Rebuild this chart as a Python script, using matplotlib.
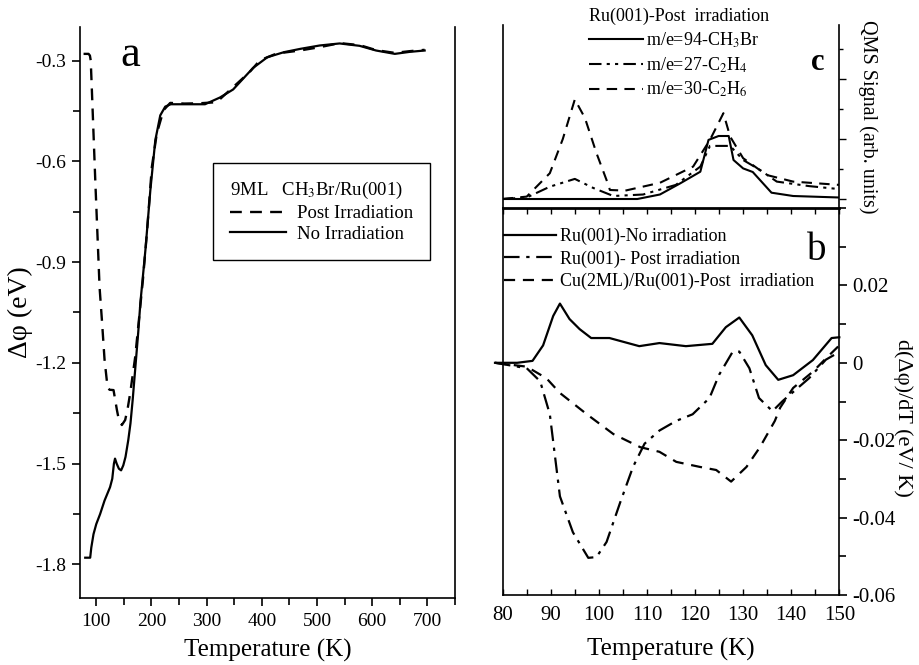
import matplotlib
matplotlib.use("Agg")
import matplotlib.pyplot as plt
from matplotlib.ticker import MultipleLocator, FixedLocator

plt.rcParams['font.family'] = ['Liberation Serif', 'DejaVu Serif']
plt.rcParams['mathtext.fontset'] = 'stix'
plt.rcParams['axes.unicode_minus'] = False

# panel a : work function change vs temperature
t_post = [77, 86, 88.5, 90, 92.8, 98.2, 106, 110.3, 115, 120.4, 124, 131.3, 137.4, 141, 146.4,
          152.4, 157, 161.5, 170.5, 179.6, 184.4, 191.7, 200.7, 209.7, 221.8, 234, 260, 288,
          318, 348, 378, 396.6, 426.8, 468.9, 505, 541.2, 577.4, 607.5, 640.7, 667.8, 694.9]
phi_post = [-0.28, -0.28, -0.285, -0.30, -0.42, -0.656, -0.975, -1.074, -1.19, -1.272, -1.28,
            -1.281, -1.34, -1.37, -1.385, -1.37, -1.335, -1.29, -1.183, -1.034, -0.955, -0.815,
            -0.617, -0.517, -0.448, -0.426, -0.428, -0.427, -0.424, -0.379, -0.334, -0.299,
            -0.279, -0.27, -0.26, -0.248, -0.254, -0.269, -0.277, -0.272, -0.268]
t_noirr = [80, 89, 91, 95, 100, 107, 115, 125, 129, 132, 134, 137, 141, 145, 149, 153, 158, 162,
           166, 171, 176, 180, 189, 198, 207, 216, 225, 235, 264, 297, 324, 348, 384, 410, 440,
           470, 505, 541, 577, 607, 641, 668, 695]
phi_noirr = [-1.78, -1.78, -1.75, -1.71, -1.68, -1.65, -1.61, -1.57, -1.545, -1.50, -1.485,
             -1.50, -1.515, -1.52, -1.505, -1.48, -1.43, -1.38, -1.31, -1.21, -1.11, -1.02,
             -0.865, -0.686, -0.537, -0.463, -0.437, -0.43, -0.43, -0.43, -0.41, -0.386, -0.322,
             -0.29, -0.275, -0.265, -0.255, -0.249, -0.256, -0.27, -0.28, -0.274, -0.27]

# panel c : QMS signals
t_c2h6 = [80, 85, 89.8, 92.5, 95.0, 97.1, 99.5, 101.6, 102.3, 105.5, 112.7, 119.6, 123.1, 125.9,
          127.3, 130.0, 134.9, 140.4, 150]
qms_c2h6 = [0, 0.08, 0.86, 2.0, 3.32, 2.7, 1.53, 0.63, 0.3, 0.28, 0.54, 1.08, 1.97, 2.86, 2.08,
            1.36, 0.8, 0.58, 0.47]
t_ch3br = [80, 108, 112.7, 116.9, 121.1, 122.8, 124.9, 127, 128, 130, 132, 135.9, 140.4, 150]
qms_ch3br = [0, 0, 0.15, 0.52, 0.91, 1.97, 2.1, 2.1, 1.3, 1.02, 0.9, 0.21, 0.1, 0.05]
t_c2h4 = [80, 85, 89.8, 95, 98.8, 103, 109.2, 116, 121.1, 123.1, 127.3, 130, 133.5, 137, 143.7, 150]
qms_c2h4 = [0, 0.05, 0.41, 0.67, 0.37, 0.1, 0.15, 0.47, 1.08, 1.77, 1.77, 1.3, 0.97, 0.58, 0.43, 0.33]

# panel b : derivative d(dphi)/dT
t_b1 = [78.4, 83, 86.2, 88.4, 90.5, 91.9, 93.9, 96, 98.4, 102.2, 108.4, 112.6, 118.1, 123.6,
        126.4, 129.2, 131.9, 134.7, 137.3, 140.4, 144.5, 148.4, 150]
d_b1 = [0, 0, 0.0005, 0.0045, 0.0121, 0.0153, 0.0113, 0.0087, 0.0064, 0.0064, 0.0043, 0.0051,
        0.0043, 0.0049, 0.0092, 0.0117, 0.0071, -0.0006, -0.0044, -0.0032, 0.0007, 0.0064, 0.0066]
t_b2 = [78.4, 85, 87.8, 89.8, 91.9, 94.6, 97.8, 99.5, 101.6, 104.4, 107.1, 109.5, 112.6, 116.1,
        119.5, 123, 125, 127.8, 129.2, 131.3, 133.3, 136.1, 138.2, 143.7, 147.2, 150]
d_b2 = [0, -0.0014, -0.0048, -0.0133, -0.0345, -0.0438, -0.0504, -0.0502, -0.0463, -0.0362,
        -0.0269, -0.0209, -0.0175, -0.015, -0.0133, -0.0091, -0.0031, 0.0028, 0.0029, -0.0014,
        -0.0091, -0.0125, -0.0099, -0.004, 0.0008, 0.0028]
t_b3 = [78.4, 85, 89.1, 91.9, 97.5, 103, 108.6, 112.6, 116.1, 121, 124.4, 127.5, 130.7, 133.5,
        136.6, 137.7, 140.4, 144.5, 147.2, 150]
d_b3 = [0, -0.001, -0.004, -0.0078, -0.0133, -0.0184, -0.0218, -0.023, -0.0256, -0.0269,
        -0.0277, -0.0307, -0.0269, -0.0218, -0.015, -0.0116, -0.0065, -0.0023, 0.0011, 0.0045]
b_ticks = [-0.06, -0.04, -0.02, 0, 0.02]
b_ticklabels = ['-0.06', '-0.04', '-0.02', '0', '0.02']

W, H = 920, 665
fig = plt.figure(figsize=(9.2, 6.65), dpi=100)

def box(l, t, r, b):
    return [l / W, 1 - b / H, (r - l) / W, (b - t) / H]

def px(x, y):
    return x / W, 1 - y / H

dash = (0, (5, 3.5))
dashdot = (0, (7, 3, 1.5, 3))
dashdotdot = (0, (6, 2.5, 1.5, 2.5, 1.5, 2.5))

# ---- panel a
axa = fig.add_axes(box(79.7, 27, 455, 598))
axa.plot(t_post, phi_post, color='black', lw=1.7, linestyle=dash, label='Post Irradiation')
axa.plot(t_noirr, phi_noirr, color='black', lw=1.6, label='No Irradiation')
axa.set_xlim(70, 750)
axa.set_ylim(-1.9, -0.2)
axa.xaxis.set_major_locator(MultipleLocator(100))
axa.xaxis.set_minor_locator(MultipleLocator(50))
axa.yaxis.set_major_locator(MultipleLocator(0.3))
axa.yaxis.set_minor_locator(MultipleLocator(0.15))
axa.spines['top'].set_visible(False)
for s in axa.spines.values():
    s.set_linewidth(1.2)
axa.tick_params(which='both', direction='out', labelsize=14, width=1.2)
axa.tick_params(which='major', length=6)
axa.tick_params(which='minor', length=5)
axa.tick_params(axis='x', pad=5)
axa.set_xlabel('Temperature (K)', fontsize=18, labelpad=6)
axa.set_ylabel('Δφ (eV)', fontsize=20, labelpad=2)
fig.text(*px(130, 55), 'a', fontsize=32, ha='center', va='center')
lega = axa.legend(loc='upper left', bbox_to_anchor=px(212.7, 163.3),
                  bbox_transform=fig.transFigure, borderaxespad=0, fontsize=13.5,
                  title='9ML   CH$_3$Br/Ru(001)', title_fontsize=13.5, fancybox=False,
                  edgecolor='black', framealpha=1, handlelength=3.0, handletextpad=0.6,
                  borderpad=0.9, labelspacing=0.2, alignment='left')
lega.get_frame().set_linewidth(1.0)

# ---- panel c
axc = fig.add_axes(box(502.7, 25, 839.3, 208))
axc.plot(t_ch3br, qms_ch3br, color='black', lw=1.5, label='m/e=94-CH$_3$Br')
axc.plot(t_c2h4, qms_c2h4, color='black', lw=1.5, linestyle=dashdotdot, label='m/e=27-C$_2$H$_4$')
axc.plot(t_c2h6, qms_c2h6, color='black', lw=1.5, linestyle=dash, label='m/e=30-C$_2$H$_6$')
axc.set_xlim(80, 150)
axc.set_ylim(-0.3, 5.8)
axc.spines['top'].set_visible(False)
axc.spines['bottom'].set_visible(False)
for s in axc.spines.values():
    s.set_linewidth(1.2)
axc.set_xticks([])
axc.yaxis.tick_right()
axc.yaxis.set_major_locator(MultipleLocator(2))
axc.yaxis.set_minor_locator(MultipleLocator(1))
axc.tick_params(axis='y', which='both', direction='out', labelright=False, width=1.0)
axc.tick_params(axis='y', which='major', length=5)
axc.tick_params(axis='y', which='minor', length=3)
fig.text(*px(818, 63), 'c', fontsize=22, fontweight='bold', ha='center', va='center')
legc = axc.legend(loc='upper left', bbox_to_anchor=px(585, 4),
                  bbox_transform=fig.transFigure, borderaxespad=0, frameon=False,
                  fontsize=13, title='Ru(001)-Post  irradiation', title_fontsize=13,
                  handlelength=3.0, handletextpad=0.2, borderpad=0.2, labelspacing=0.3,
                  alignment='left')

# ---- panel b
axb = fig.add_axes(box(502.7, 208, 839.3, 595))
axb.plot(t_b1, d_b1, color='black', lw=1.6, clip_on=False, label='Ru(001)-No irradiation')
axb.plot(t_b2, d_b2, color='black', lw=1.6, linestyle=dashdot, clip_on=False,
         label='Ru(001)- Post irradiation')
axb.plot(t_b3, d_b3, color='black', lw=1.6, linestyle=dash, clip_on=False,
         label='Cu(2ML)/Ru(001)-Post  irradiation')
axb.set_xlim(80, 150)
axb.set_ylim(-0.06, 0.04)
axb.spines['top'].set_linewidth(2.0)
for k in ['left', 'right', 'bottom']:
    axb.spines[k].set_linewidth(1.2)
axb.xaxis.set_major_locator(MultipleLocator(10))
axb.xaxis.set_minor_locator(MultipleLocator(5))
axb.tick_params(axis='x', which='both', direction='in', top=True, labelsize=15, width=1.0,
                pad=8)
axb.tick_params(axis='x', which='major', length=4)
axb.tick_params(axis='x', which='minor', length=4)
axb.yaxis.tick_right()
axb.yaxis.set_major_locator(FixedLocator(b_ticks))
axb.set_yticklabels(b_ticklabels)
axb.yaxis.set_minor_locator(MultipleLocator(0.01))
axb.tick_params(axis='y', which='both', direction='out', labelsize=15, width=1.2)
axb.tick_params(axis='y', which='major', length=6)
axb.tick_params(axis='y', which='minor', length=5)
axb.set_xlabel('Temperature (K)', fontsize=18, labelpad=9)
fig.text(*px(817, 250), 'b', fontsize=28, ha='center', va='center')
legb = axb.legend(loc='upper left', bbox_to_anchor=px(500, 224),
                  bbox_transform=fig.transFigure, borderaxespad=0, frameon=False,
                  fontsize=13, handlelength=2.9, handletextpad=0.2, borderpad=0.2,
                  labelspacing=0.3)

fig.text(*px(868, 117), 'QMS Signal (arb. units)', rotation=270, fontsize=14.5,
         ha='center', va='center')
fig.text(*px(903, 418), 'd(Δφ)/dT (eV/ K)', rotation=270, fontsize=16,
         ha='center', va='center')

fig.savefig('out.png', dpi=100)
